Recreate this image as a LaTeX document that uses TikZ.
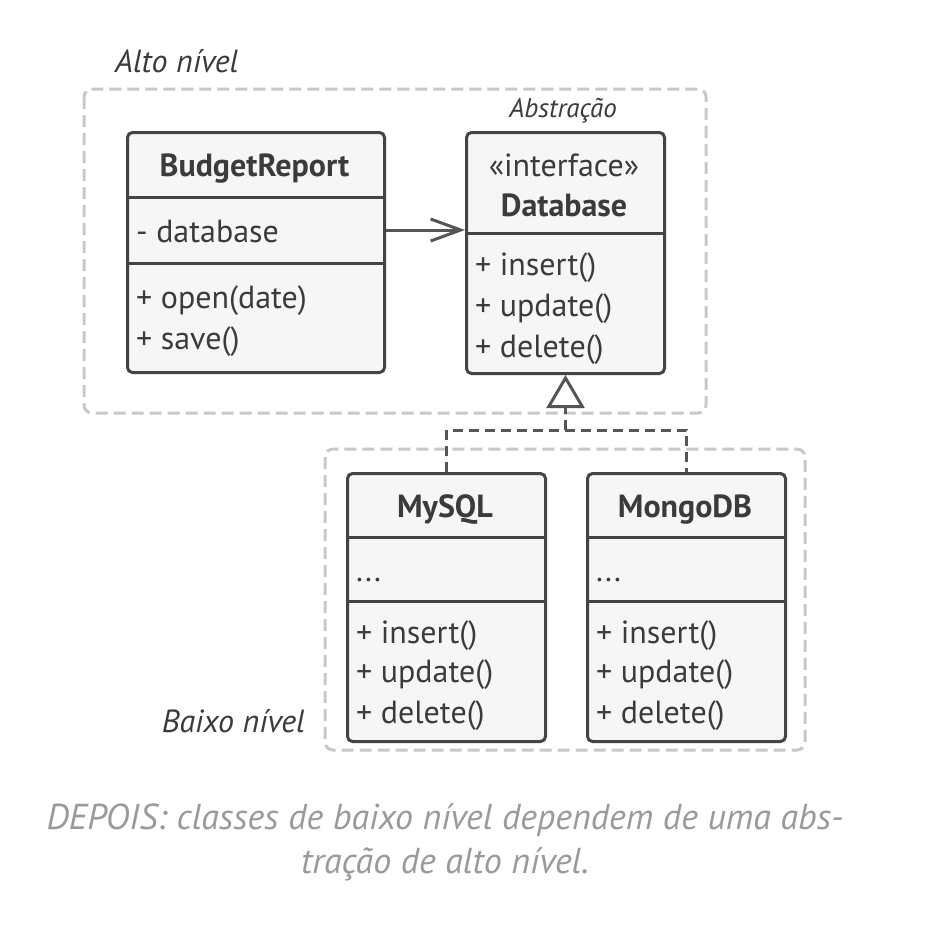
\documentclass[tikz,border=0pt]{standalone}
\usepackage{fontspec}
\setmainfont{PT Sans}
\usetikzlibrary{arrows.meta}
\definecolor{ink}{HTML}{444444}
\definecolor{txt}{HTML}{3b3b3b}
\definecolor{boxfill}{HTML}{F6F6F6}
\definecolor{grp}{HTML}{C8C8C8}
\definecolor{conn}{HTML}{555555}
\definecolor{cap}{HTML}{9A9A9A}
\tikzset{
  cls/.style={draw=ink, line width=3pt, fill=boxfill, rounded corners=5pt, inner sep=0pt, anchor=north west},
  sepline/.style={draw=ink, line width=3pt},
  grpbox/.style={draw=grp, line width=3pt, dash pattern=on 12pt off 6pt, rounded corners=8pt},
  title/.style={font=\fontsize{32}{38}\selectfont\bfseries, text=txt, anchor=base, inner sep=0pt},
  item/.style={font=\fontsize{32}{38}\selectfont, text=txt, anchor=base west, inner sep=0pt},
  itemc/.style={font=\fontsize{32}{38}\selectfont, text=txt, anchor=base, inner sep=0pt},
  lbl/.style={font=\fontsize{32}{38}\selectfont\itshape, text=txt, inner sep=0pt},
  slbl/.style={font=\fontsize{27}{32}\selectfont\itshape, text=txt, inner sep=0pt, anchor=base},
  capt/.style={font=\fontsize{36}{42}\selectfont\itshape, text=cap, inner sep=0pt, anchor=base},
  assoc/.style={draw=conn, line width=3pt, -{Straight Barb[length=30pt,width=22pt]}},
  realize/.style={draw=conn, line width=3pt, dash pattern=on 10pt off 6pt},
}
\begin{document}
\begin{tikzpicture}[x=1pt,y=-1pt]
\useasboundingbox[fill=white] (0,0) rectangle (930,934);

% group boxes
\draw[grpbox] (84,89) rectangle (706,413);
\draw[grpbox] (325,449) rectangle (805,750);
\node[lbl, anchor=base west] (alto) at (115,72) {Alto nível};
\node[lbl, anchor=base east] (baixo) at (305,732) {Baixo nível};
\node[slbl] (abs) at (563,117) {Abstração};

% BudgetReport
\node[cls, minimum width=257pt, minimum height=240pt] (br) at (126,131) {};
\draw[sepline] (br.west |- 0,197) -- (br.east |- 0,197);
\draw[sepline] (br.west |- 0,263) -- (br.east |- 0,263);
\node[title] (brt) at (254.5,176) {BudgetReport};
\node[item] (bra) at (136,242) {- database};
\node[item] (brm1) at (136,308) {+ open(date)};
\node[item] (brm2) at (136,349) {+ save()};

% Database
\node[cls, minimum width=198pt, minimum height=241pt] (db) at (465,131) {};
\draw[sepline] (db.west |- 0,233) -- (db.east |- 0,233);
\node[itemc] (dbs) at (564,176) {«interface»};
\node[title] (dbt) at (564,216) {Database};
\node[item] (dbm1) at (475,275) {+ insert()};
\node[item] (dbm2) at (475,316) {+ update()};
\node[item] (dbm3) at (475,357) {+ delete()};

% MySQL
\node[cls, minimum width=198pt, minimum height=268pt] (my) at (346,472) {};
\draw[sepline] (my.west |- 0,537) -- (my.east |- 0,537);
\draw[sepline] (my.west |- 0,601) -- (my.east |- 0,601);
\node[title] (myt) at (445,517) {MySQL};
\node[item] (mya) at (356,581) {...};
\node[item] (mym1) at (356,643) {+ insert()};
\node[item] (mym2) at (356,682) {+ update()};
\node[item] (mym3) at (356,723) {+ delete()};

% MongoDB
\node[cls, minimum width=198pt, minimum height=268pt] (mg) at (586,472) {};
\draw[sepline] (mg.west |- 0,537) -- (mg.east |- 0,537);
\draw[sepline] (mg.west |- 0,601) -- (mg.east |- 0,601);
\node[title] (mgt) at (685,517) {MongoDB};
\node[item] (mga) at (596,581) {...};
\node[item] (mgm1) at (596,643) {+ insert()};
\node[item] (mgm2) at (596,682) {+ update()};
\node[item] (mgm3) at (596,723) {+ delete()};

% association
\draw[assoc] (br.east |- 0,230) -- (db.west |- 0,230);

% realization
\coordinate (j) at (db.south |- 0,430);
\coordinate (tb) at (db.south |- 0,410);
\draw[realize] (my.north) |- (j) -| (mg.north);
\draw[realize] (j) -- (tb);
\draw[draw=conn, line width=3pt, -{Triangle[open, length=33pt, width=38pt]}] (tb) -- (db.south);

% caption
\node[capt] (c1) at (445,829) {DEPOIS: classes de baixo nível dependem de uma abs-};
\node[capt] (c2) at (445,873) {tração de alto nível.};
\end{tikzpicture}
\end{document}
